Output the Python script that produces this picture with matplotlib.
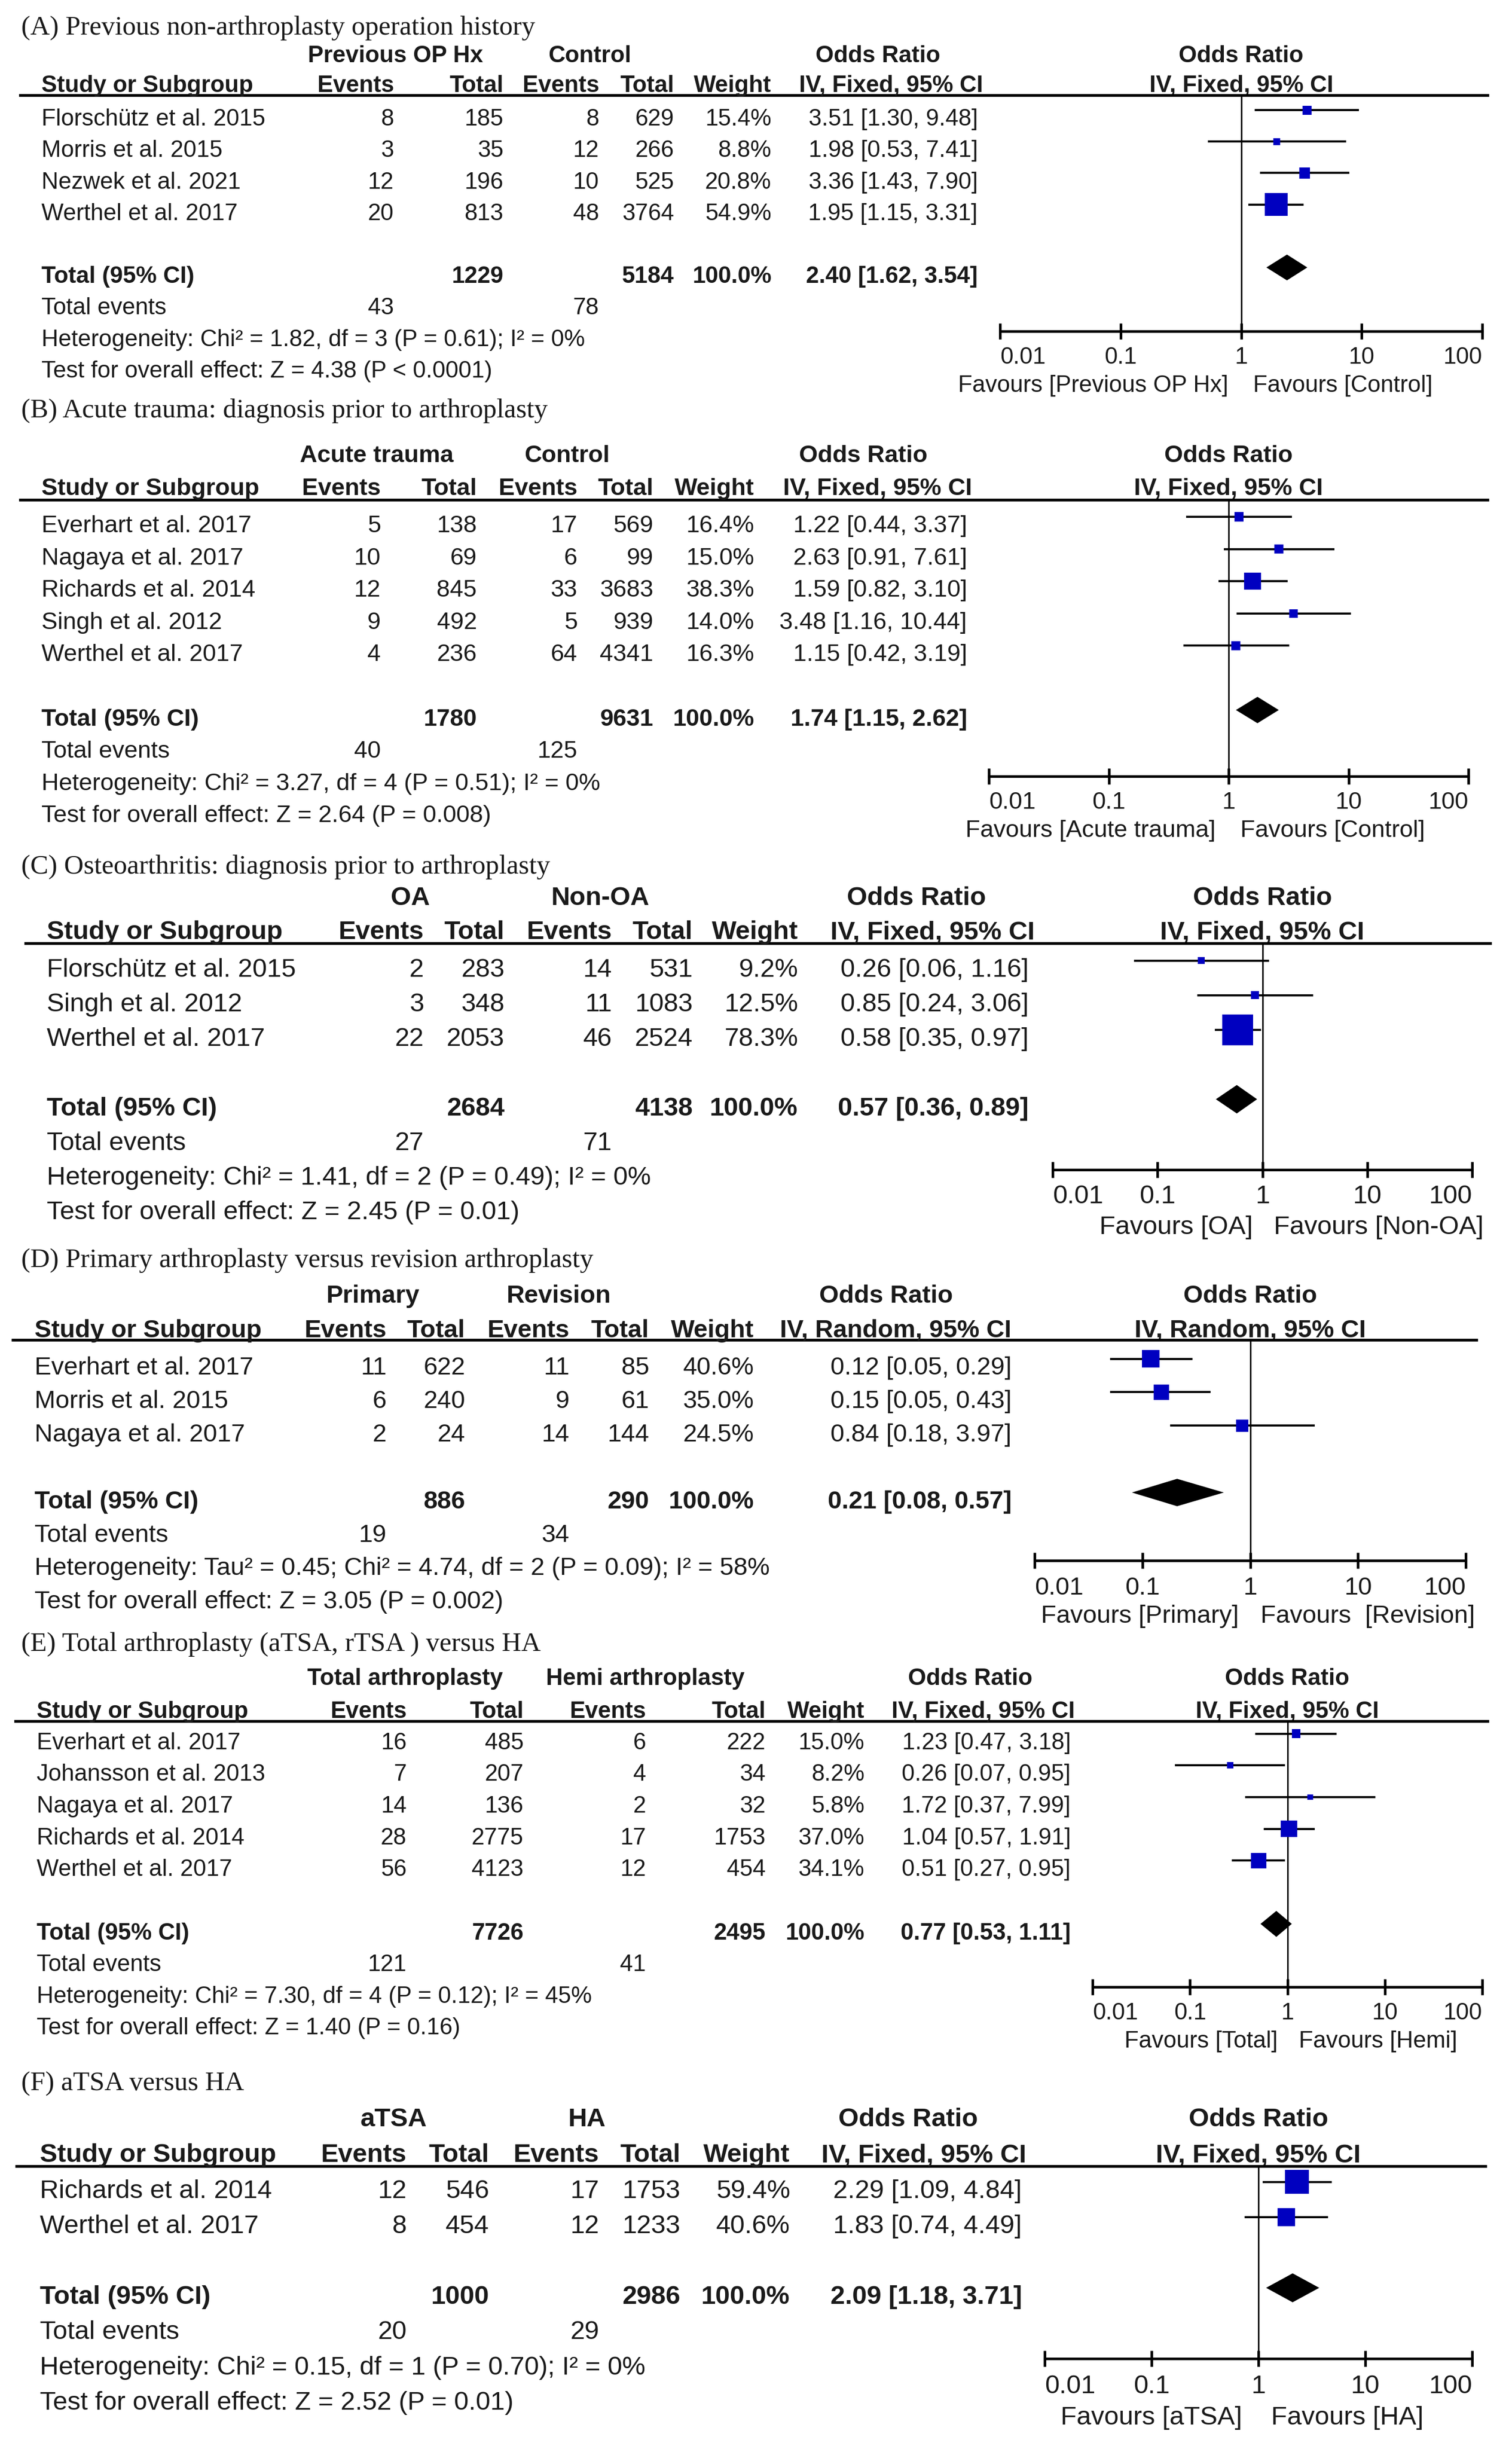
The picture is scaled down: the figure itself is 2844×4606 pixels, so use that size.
import matplotlib
matplotlib.use("Agg")
import matplotlib.pyplot as plt
from matplotlib.lines import Line2D
from matplotlib.transforms import blended_transform_factory as blend

W, H, DPI = 2844, 4606, 100
PREV = 1568.0          # vertical positions were read on a 1568 px tall preview
INK = "#1a1a1a"
BLUE = "#0000c0"
SANS = "Liberation Sans"
SERIF = "Liberation Serif"

tick_vals = [0.01, 0.1, 1, 10, 100]
tick_labels = ["0.01", "0.1", "1", "10", "100"]

# ---------------- (A) ----------------
a_title = "(A) Previous non-arthroplasty operation history"
a_groups = ["Previous OP Hx", "Control"]
a_studies = ["Florschütz et al. 2015", "Morris et al. 2015", "Nezwek et al. 2021", "Werthel et al. 2017"]
a_ev1 = [8, 3, 12, 20]
a_n1 = [185, 35, 196, 813]
a_ev2 = [8, 12, 10, 48]
a_n2 = [629, 266, 525, 3764]
a_wt = [15.4, 8.8, 20.8, 54.9]
a_or = [3.51, 1.98, 3.36, 1.95]
a_lo = [1.30, 0.53, 1.43, 1.15]
a_hi = [9.48, 7.41, 7.90, 3.31]
a_pooled = [2.40, 1.62, 3.54]
a_totals = [1229, 5184, 43, 78]
a_het = "Heterogeneity: Chi² = 1.82, df = 3 (P = 0.61); I² = 0%"
a_test = "Test for overall effect: Z = 4.38 (P < 0.0001)"
a_favours = ["Favours [Previous OP Hx]", "Favours [Control]"]

# ---------------- (B) ----------------
b_title = "(B) Acute trauma: diagnosis prior to arthroplasty"
b_groups = ["Acute trauma", "Control"]
b_studies = ["Everhart et al. 2017", "Nagaya et al. 2017", "Richards et al. 2014", "Singh et al. 2012", "Werthel et al. 2017"]
b_ev1 = [5, 10, 12, 9, 4]
b_n1 = [138, 69, 845, 492, 236]
b_ev2 = [17, 6, 33, 5, 64]
b_n2 = [569, 99, 3683, 939, 4341]
b_wt = [16.4, 15.0, 38.3, 14.0, 16.3]
b_or = [1.22, 2.63, 1.59, 3.48, 1.15]
b_lo = [0.44, 0.91, 0.82, 1.16, 0.42]
b_hi = [3.37, 7.61, 3.10, 10.44, 3.19]
b_pooled = [1.74, 1.15, 2.62]
b_totals = [1780, 9631, 40, 125]
b_het = "Heterogeneity: Chi² = 3.27, df = 4 (P = 0.51); I² = 0%"
b_test = "Test for overall effect: Z = 2.64 (P = 0.008)"
b_favours = ["Favours [Acute trauma]", "Favours [Control]"]

# ---------------- (C) ----------------
c_title = "(C) Osteoarthritis: diagnosis prior to arthroplasty"
c_groups = ["OA", "Non-OA"]
c_studies = ["Florschütz et al. 2015", "Singh et al. 2012", "Werthel et al. 2017"]
c_ev1 = [2, 3, 22]
c_n1 = [283, 348, 2053]
c_ev2 = [14, 11, 46]
c_n2 = [531, 1083, 2524]
c_wt = [9.2, 12.5, 78.3]
c_or = [0.26, 0.85, 0.58]
c_lo = [0.06, 0.24, 0.35]
c_hi = [1.16, 3.06, 0.97]
c_pooled = [0.57, 0.36, 0.89]
c_totals = [2684, 4138, 27, 71]
c_het = "Heterogeneity: Chi² = 1.41, df = 2 (P = 0.49); I² = 0%"
c_test = "Test for overall effect: Z = 2.45 (P = 0.01)"
c_favours = ["Favours [OA]", "Favours [Non-OA]"]

# ---------------- (D) ----------------
d_title = "(D) Primary arthroplasty versus revision arthroplasty"
d_groups = ["Primary", "Revision"]
d_studies = ["Everhart et al. 2017", "Morris et al. 2015", "Nagaya et al. 2017"]
d_ev1 = [11, 6, 2]
d_n1 = [622, 240, 24]
d_ev2 = [11, 9, 14]
d_n2 = [85, 61, 144]
d_wt = [40.6, 35.0, 24.5]
d_or = [0.12, 0.15, 0.84]
d_lo = [0.05, 0.05, 0.18]
d_hi = [0.29, 0.43, 3.97]
d_pooled = [0.21, 0.08, 0.57]
d_totals = [886, 290, 19, 34]
d_het = "Heterogeneity: Tau² = 0.45; Chi² = 4.74, df = 2 (P = 0.09); I² = 58%"
d_test = "Test for overall effect: Z = 3.05 (P = 0.002)"
d_favours = ["Favours [Primary]", "Favours  [Revision]"]

# ---------------- (E) ----------------
e_title = "(E) Total arthroplasty (aTSA, rTSA ) versus HA"
e_groups = ["Total arthroplasty", "Hemi arthroplasty"]
e_studies = ["Everhart et al. 2017", "Johansson et al. 2013", "Nagaya et al. 2017", "Richards et al. 2014", "Werthel et al. 2017"]
e_ev1 = [16, 7, 14, 28, 56]
e_n1 = [485, 207, 136, 2775, 4123]
e_ev2 = [6, 4, 2, 17, 12]
e_n2 = [222, 34, 32, 1753, 454]
e_wt = [15.0, 8.2, 5.8, 37.0, 34.1]
e_or = [1.23, 0.26, 1.72, 1.04, 0.51]
e_lo = [0.47, 0.07, 0.37, 0.57, 0.27]
e_hi = [3.18, 0.95, 7.99, 1.91, 0.95]
e_pooled = [0.77, 0.53, 1.11]
e_totals = [7726, 2495, 121, 41]
e_het = "Heterogeneity: Chi² = 7.30, df = 4 (P = 0.12); I² = 45%"
e_test = "Test for overall effect: Z = 1.40 (P = 0.16)"
e_favours = ["Favours [Total]", "Favours [Hemi]"]

# ---------------- (F) ----------------
f_title = "(F) aTSA versus HA"
f_groups = ["aTSA", "HA"]
f_studies = ["Richards et al. 2014", "Werthel et al. 2017"]
f_ev1 = [12, 8]
f_n1 = [546, 454]
f_ev2 = [17, 12]
f_n2 = [1753, 1233]
f_wt = [59.4, 40.6]
f_or = [2.29, 1.83]
f_lo = [1.09, 0.74]
f_hi = [4.84, 4.49]
f_pooled = [2.09, 1.18, 3.71]
f_totals = [1000, 2986, 20, 29]
f_het = "Heterogeneity: Chi² = 0.15, df = 1 (P = 0.70); I² = 0%"
f_test = "Test for overall effect: Z = 2.52 (P = 0.01)"
f_favours = ["Favours [aTSA]", "Favours [HA]"]


def panel(title, groups, method, studies, ev1, n1, ev2, n2, wt, est, lo, hi, pooled, totals, het, test, favours):
    return dict(title=title, groups=groups, method=method, studies=studies, ev1=ev1, n1=n1, ev2=ev2, n2=n2,
                wt=wt, est=est, lo=lo, hi=hi, pooled=pooled, totals=totals, het=het, test=test, favours=favours)


panels = [
    panel(a_title, a_groups, "IV, Fixed, 95% CI", a_studies, a_ev1, a_n1, a_ev2, a_n2, a_wt, a_or, a_lo, a_hi,
          a_pooled, a_totals, a_het, a_test, a_favours),
    panel(b_title, b_groups, "IV, Fixed, 95% CI", b_studies, b_ev1, b_n1, b_ev2, b_n2, b_wt, b_or, b_lo, b_hi,
          b_pooled, b_totals, b_het, b_test, b_favours),
    panel(c_title, c_groups, "IV, Fixed, 95% CI", c_studies, c_ev1, c_n1, c_ev2, c_n2, c_wt, c_or, c_lo, c_hi,
          c_pooled, c_totals, c_het, c_test, c_favours),
    panel(d_title, d_groups, "IV, Random, 95% CI", d_studies, d_ev1, d_n1, d_ev2, d_n2, d_wt, d_or, d_lo, d_hi,
          d_pooled, d_totals, d_het, d_test, d_favours),
    panel(e_title, e_groups, "IV, Fixed, 95% CI", e_studies, e_ev1, e_n1, e_ev2, e_n2, e_wt, e_or, e_lo, e_hi,
          e_pooled, e_totals, e_het, e_test, e_favours),
    panel(f_title, f_groups, "IV, Fixed, 95% CI", f_studies, f_ev1, f_n1, f_ev2, f_n2, f_wt, f_or, f_lo, f_hi,
          f_pooled, f_totals, f_het, f_test, f_favours),
]

# layout: *_y values in preview px (1568 tall), *_x values in output px (2844 wide)
layouts = [
    dict(title_y=18, grp_y=36, hdr_y=55, line_y=61, row0=76.5, step=20.15, axis_y=212, tick_y=229, fav_y=247,
         line_x=(38, 2798), study_x=78, grp_x=(744, 1109), cols=(741, 947, 1127, 1268, 1451, 1839),
         or_x=1651, iv_x=1676, ax_x=(1881, 2788), fav_x=(2310, 2357), fs=31.7),
    dict(title_y=263, grp_y=292, hdr_y=313, line_y=320, row0=337, step=20.6, axis_y=497, tick_y=514, fav_y=532,
         line_x=(38, 2798), study_x=78, grp_x=(709, 1066), cols=(716, 897, 1086, 1229, 1419, 1819),
         or_x=1624, iv_x=1651, ax_x=(1860, 2762), fav_x=(2287, 2333), fs=32.6),
    dict(title_y=555, grp_y=575, hdr_y=597, line_y=604, row0=621, step=22.2, axis_y=749, tick_y=766, fav_y=786,
         line_x=(48, 2803), study_x=88, grp_x=(772, 1129), cols=(797, 949, 1151, 1303, 1501, 1935),
         or_x=1724, iv_x=1754, ax_x=(1980, 2769), fav_x=(2357, 2396), fs=35.3),
    dict(title_y=807, grp_y=830, hdr_y=852, line_y=858, row0=876, step=21.4, axis_y=999, tick_y=1017, fav_y=1035,
         line_x=(24, 2777), study_x=65, grp_x=(702, 1051), cols=(727, 875, 1071, 1221, 1418, 1903),
         or_x=1667, iv_x=1685, ax_x=(1946, 2757), fav_x=(2330, 2371), fs=33.9),
    dict(title_y=1053, grp_y=1075, hdr_y=1096, line_y=1102, row0=1116, step=20.3, axis_y=1272, tick_y=1289, fav_y=1307,
         line_x=(29, 2798), study_x=69, grp_x=(762, 1214), cols=(765, 985, 1215, 1440, 1626, 2014),
         or_x=1825, iv_x=1849, ax_x=(2055, 2788), fav_x=(2403, 2443), fs=31.6),
    dict(title_y=1334, grp_y=1357, hdr_y=1380, line_y=1387, row0=1403, step=22.6, axis_y=1510, tick_y=1528, fav_y=1548,
         line_x=(31, 2794), study_x=75, grp_x=(740, 1104), cols=(765, 920, 1127, 1280, 1486, 1922),
         or_x=1708, iv_x=1738, ax_x=(1965, 2769), fav_x=(2336, 2391), fs=35.4),
]

MARK_UP = 6.0   # squares sit a little above the text line (preview px)


def fy(v):
    return 1 - v / PREV


def fx(v):
    return v / W


fig = plt.figure(figsize=(W / DPI, H / DPI), dpi=DPI)
fig.patch.set_facecolor("white")


def draw_panel(p, L):
    fs = L["fs"]
    txt = dict(family=SANS, fontsize=fs, color=INK, va="center")
    bold = dict(txt, fontweight="bold")

    fig.text(fx(40), fy(L["title_y"]), p["title"], family=SERIF, fontsize=36.5, color=INK, va="center")

    # forest plot axes: top = header rule, bottom = OR axis
    x0, x1 = L["ax_x"]
    top, bot = fy(L["line_y"]), fy(L["axis_y"])
    ax = fig.add_axes([fx(x0), bot, fx(x1 - x0), top - bot])
    ax.patch.set_visible(False)
    ax.set_xscale("log")
    ax.set_xlim(0.01, 100)
    base = L["row0"] - MARK_UP
    step = L["step"]
    ax.set_ylim((L["axis_y"] - base) / step, (L["line_y"] - base) / step)
    for s in ["top", "left", "right"]:
        ax.spines[s].set_visible(False)
    ax.spines["bottom"].set_linewidth(3.5)
    ax.set_xticks(tick_vals)
    ax.xaxis.set_minor_locator(matplotlib.ticker.NullLocator())
    ax.tick_params(axis="x", direction="inout", length=22, width=3.5, labelbottom=False)
    ax.set_yticks([])
    ax.axvline(1, color="black", lw=2, zorder=1)

    n = len(p["studies"])
    ys = list(range(n))
    ax.hlines(ys, p["lo"], p["hi"], color="black", lw=2.8, zorder=2)
    sizes = [((7 + 0.65 * w) * 72 / DPI) ** 2 for w in p["wt"]]
    ax.scatter(p["est"], ys, s=sizes, marker="s", color=BLUE, linewidths=0, zorder=3)

    est, lo, hi = p["pooled"]
    yt = n + 1
    ax.fill([lo, est, hi, est], [yt, yt - 0.41, yt, yt + 0.41], color="black", lw=0, zorder=3)

    # OR axis labels
    tr_x = blend(ax.transData, fig.transFigure)
    for k, (v, lab) in enumerate(zip(tick_vals, tick_labels)):
        ha = "left" if k == 0 else ("right" if k == len(tick_vals) - 1 else "center")
        ax.text(v, fy(L["tick_y"]), lab, transform=tr_x, ha=ha, **txt)
    fig.text(fx(L["fav_x"][0]), fy(L["fav_y"]), p["favours"][0], ha="right", **txt)
    fig.text(fx(L["fav_x"][1]), fy(L["fav_y"]), p["favours"][1], ha="left", **txt)
    ax.text(1, fy(L["grp_y"]), "Odds Ratio", transform=tr_x, ha="center", **bold)
    ax.text(1, fy(L["hdr_y"]), p["method"], transform=tr_x, ha="center", **bold)

    # header
    fig.add_artist(Line2D([fx(L["line_x"][0]), fx(L["line_x"][1])], [fy(L["line_y"])] * 2,
                          color="black", lw=3.8))
    c = L["cols"]
    gy, hy = fy(L["grp_y"]), fy(L["hdr_y"])
    fig.text(fx(L["grp_x"][0]), gy, p["groups"][0], ha="center", **bold)
    fig.text(fx(L["grp_x"][1]), gy, p["groups"][1], ha="center", **bold)
    fig.text(fx(L["or_x"]), gy, "Odds Ratio", ha="center", **bold)
    fig.text(fx(L["study_x"]), hy, "Study or Subgroup", ha="left", **bold)
    for lab, xc in zip(["Events", "Total", "Events", "Total", "Weight"], c[:5]):
        fig.text(fx(xc), hy, lab, ha="right", **bold)
    fig.text(fx(L["iv_x"]), hy, p["method"], ha="center", **bold)

    # table rows, in the forest axes' row units
    tr = blend(fig.transFigure, ax.transData)
    dy = MARK_UP / step
    sx = fx(L["study_x"])
    for i in range(n):
        y = i + dy
        ax.text(sx, y, p["studies"][i], transform=tr, ha="left", **txt)
        vals = [str(p["ev1"][i]), str(p["n1"][i]), str(p["ev2"][i]), str(p["n2"][i]), f"{p['wt'][i]:.1f}%",
                f"{p['est'][i]:.2f} [{p['lo'][i]:.2f}, {p['hi'][i]:.2f}]"]
        for v, xc in zip(vals, c):
            ax.text(fx(xc), y, v, transform=tr, ha="right", **txt)

    y = n + 1 + dy
    t = p["totals"]
    ax.text(sx, y, "Total (95% CI)", transform=tr, ha="left", **bold)
    ax.text(fx(c[1]), y, str(t[0]), transform=tr, ha="right", **bold)
    ax.text(fx(c[3]), y, str(t[1]), transform=tr, ha="right", **bold)
    ax.text(fx(c[4]), y, "100.0%", transform=tr, ha="right", **bold)
    ax.text(fx(c[5]), y, f"{est:.2f} [{lo:.2f}, {hi:.2f}]", transform=tr, ha="right", **bold)

    y = n + 2 + dy
    ax.text(sx, y, "Total events", transform=tr, ha="left", **txt)
    ax.text(fx(c[0]), y, str(t[2]), transform=tr, ha="right", **txt)
    ax.text(fx(c[2]), y, str(t[3]), transform=tr, ha="right", **txt)
    ax.text(sx, n + 3 + dy, p["het"], transform=tr, ha="left", **txt)
    ax.text(sx, n + 4 + dy, p["test"], transform=tr, ha="left", **txt)


for p, L in zip(panels, layouts):
    draw_panel(p, L)

fig.savefig("out.png", dpi=DPI, facecolor="white")
